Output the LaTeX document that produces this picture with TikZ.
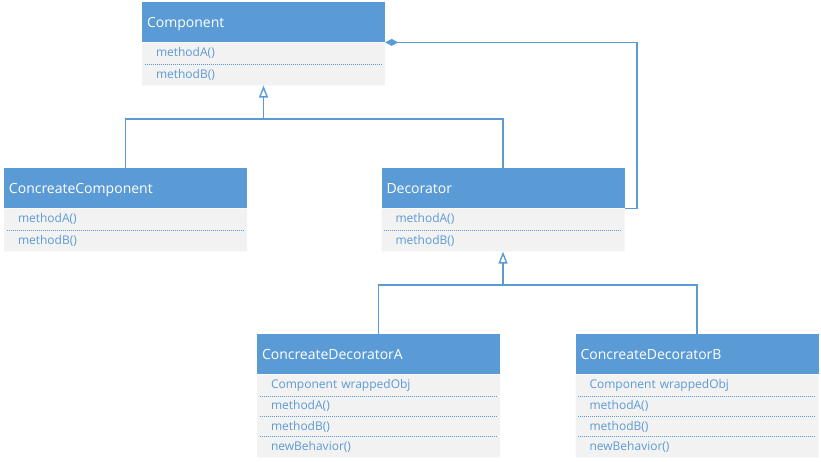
\documentclass[tikz,border=0pt]{standalone}
\usepackage{fontspec}
\setmainfont{Open Sans}
\usetikzlibrary{shapes.multipart}
\usetikzlibrary{positioning}
\usetikzlibrary{arrows.meta}
\definecolor{umlblue}{HTML}{5B9BD5}
\definecolor{umlgray}{HTML}{F2F2F2}

\begin{document}
\begin{tikzpicture}[
 x = 1pt, y = -1pt,
 head/.style = {
    rectangle,
    fill=umlblue,
    text=white,
    font=\fontsize{14}{16}\selectfont,
    text width = 233pt,
    text height = 13pt,
    text depth = 2pt,
    align=left,
    inner xsep=5pt,
    minimum height = 40pt,
    anchor=north},
 members/.style = {
    rectangle split,
    rectangle split parts=#1,
    rectangle split part align=left,
    fill=umlgray,
    text=umlblue,
    font=\fontsize{12}{14}\selectfont,
    text width = 215pt,
    inner xsep=14pt,
    inner ysep=5pt},
 membersep/.style = {draw=umlblue, dash pattern=on 1pt off 1pt, line width=1pt},
 link/.style = {umlblue, line width=1.4pt},
 inherit/.style = {link, -{Triangle[open, length=12pt, width=9pt, fill=white]}},
 agg/.style = {link, {Diamond[length=13pt, width=7pt]}-}
 ]
\useasboundingbox (0,0) rectangle (821,461);

% classes
\node(comphead)[head] at (263.5,2) {Component};
\node(compbody)[members=2, below=0pt of comphead] {methodA() \nodepart{two} methodB()};
\draw[membersep] ([xshift=3pt]compbody.text split west) -- ([xshift=-3pt]compbody.text split east);

\node(cchead)[head] at (125.5,168) {ConcreateComponent};
\node(ccbody)[members=2, below=0pt of cchead] {methodA() \nodepart{two} methodB()};
\draw[membersep] ([xshift=3pt]ccbody.text split west) -- ([xshift=-3pt]ccbody.text split east);

\node(dechead)[head] at (503,168) {Decorator};
\node(decbody)[members=2, below=0pt of dechead] {methodA() \nodepart{two} methodB()};
\draw[membersep] ([xshift=3pt]decbody.text split west) -- ([xshift=-3pt]decbody.text split east);

\node(dahead)[head] at (378.5,334) {ConcreateDecoratorA};
\node(dabody)[members=4, inner ysep=4.5pt, below=0pt of dahead] {Component wrappedObj
  \nodepart{two} methodA() \nodepart{three} methodB() \nodepart{four} newBehavior()};
\draw[membersep] ([xshift=3pt]dabody.text split west) -- ([xshift=-3pt]dabody.text split east);
\draw[membersep] ([xshift=3pt]dabody.two split west) -- ([xshift=-3pt]dabody.two split east);
\draw[membersep] ([xshift=3pt]dabody.three split west) -- ([xshift=-3pt]dabody.three split east);

\node(dbhead)[head] at (697,334) {ConcreateDecoratorB};
\node(dbbody)[members=4, inner ysep=4.5pt, below=0pt of dbhead] {Component wrappedObj
  \nodepart{two} methodA() \nodepart{three} methodB() \nodepart{four} newBehavior()};
\draw[membersep] ([xshift=3pt]dbbody.text split west) -- ([xshift=-3pt]dbbody.text split east);
\draw[membersep] ([xshift=3pt]dbbody.two split west) -- ([xshift=-3pt]dbbody.two split east);
\draw[membersep] ([xshift=3pt]dbbody.three split west) -- ([xshift=-3pt]dbbody.three split east);

% connectors
\coordinate (fork1) at (263.5,119);
\draw[link] (cchead.north) |- (fork1);
\draw[link] (dechead.north) |- (fork1);
\draw[inherit] (fork1) -- (compbody.south);

\coordinate (fork2) at (503,285);
\draw[link] (dahead.north) |- (fork2);
\draw[link] (dbhead.north) |- (fork2);
\draw[inherit] (fork2) -- (decbody.south);

\coordinate (bend) at (637,100);
\draw[agg] (comphead.south east) -| (bend) |- (dechead.south east);

\end{tikzpicture}
\end{document}
